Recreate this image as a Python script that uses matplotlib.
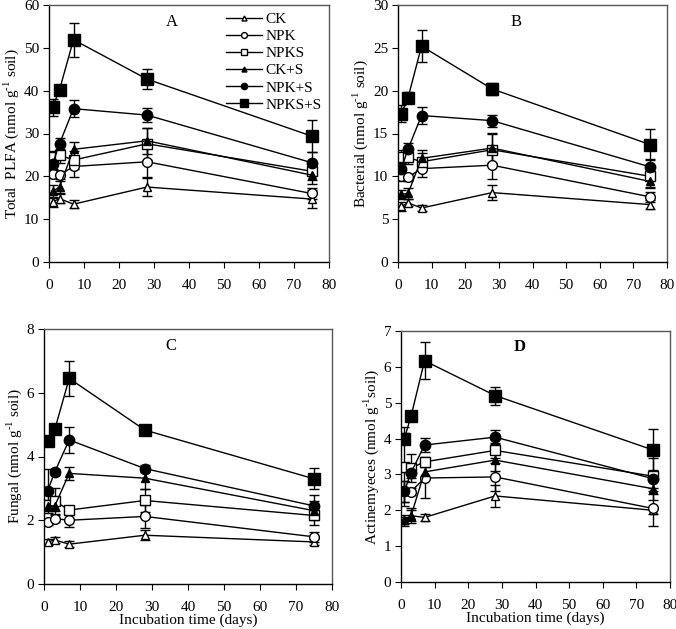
import matplotlib
matplotlib.use("Agg")
import matplotlib.pyplot as plt
from matplotlib.lines import Line2D

plt.rcParams['font.family'] = ['Liberation Serif', 'DejaVu Serif']
plt.rcParams['mathtext.fontset'] = 'custom'
plt.rcParams['mathtext.rm'] = 'Liberation Serif'

days = [1, 3, 7, 28, 75]
series = ["CK", "NPK", "NPKS", "CK+S", "NPK+S", "NPKS+S"]

# Panel A: Total PLFA
A_vals = {
    "CK":     [14.0, 14.8, 13.5, 17.5, 14.7],
    "NPK":    [20.5, 20.3, 22.3, 23.4, 16.0],
    "NPKS":   [24.5, 25.0, 23.8, 27.6, 21.2],
    "CK+S":   [16.5, 17.5, 26.3, 28.3, 20.3],
    "NPK+S":  [22.8, 27.6, 35.8, 34.3, 23.2],
    "NPKS+S": [36.1, 40.2, 51.9, 42.7, 29.4],
}
A_err = {
    "CK":     [1.2, 1.0, 1.0, 2.0, 2.0],
    "NPK":    [1.0, 1.0, 2.5, 3.5, 1.3],
    "NPKS":   [1.5, 2.0, 2.2, 3.8, 2.0],
    "CK+S":   [1.5, 1.5, 1.8, 3.0, 2.0],
    "NPK+S":  [1.0, 1.3, 2.0, 1.6, 2.5],
    "NPKS+S": [2.0, 0.8, 4.0, 2.3, 3.8],
}
# Panel B: Bacterial
B_vals = {
    "CK":     [6.5, 6.9, 6.3, 8.1, 6.7],
    "NPK":    [10.0, 9.9, 10.9, 11.3, 7.6],
    "NPKS":   [12.3, 12.2, 11.7, 13.1, 10.0],
    "CK+S":   [7.9, 8.0, 12.1, 13.3, 9.4],
    "NPK+S":  [10.9, 13.2, 17.1, 16.5, 11.1],
    "NPKS+S": [17.3, 19.2, 25.2, 20.2, 13.7],
}
B_err = {
    "CK":     [0.5, 0.4, 0.4, 0.9, 0.5],
    "NPK":    [0.5, 0.4, 1.0, 1.6, 0.6],
    "NPKS":   [0.8, 0.8, 1.0, 1.8, 1.2],
    "CK+S":   [0.5, 0.6, 1.0, 1.8, 0.8],
    "NPK+S":  [0.6, 0.7, 1.0, 0.7, 0.9],
    "NPKS+S": [1.0, 0.6, 1.9, 0.7, 1.8],
}
# Panel C: Fungal
C_vals = {
    "CK":     [1.32, 1.38, 1.25, 1.53, 1.32],
    "NPK":    [1.95, 2.05, 2.00, 2.12, 1.48],
    "NPKS":   [2.48, 2.60, 2.32, 2.62, 2.15],
    "CK+S":   [2.45, 2.45, 3.47, 3.32, 2.30],
    "NPK+S":  [2.92, 3.52, 4.52, 3.62, 2.45],
    "NPKS+S": [4.50, 4.85, 6.45, 4.83, 3.30],
}
C_err = {
    "CK":     [0.10, 0.10, 0.10, 0.15, 0.10],
    "NPK":    [0.10, 0.10, 0.20, 0.35, 0.15],
    "NPKS":   [0.15, 0.40, 0.10, 0.35, 0.30],
    "CK+S":   [0.15, 0.15, 0.20, 0.35, 0.30],
    "NPK+S":  [0.70, 0.10, 0.40, 0.10, 0.35],
    "NPKS+S": [0.10, 0.10, 0.55, 0.15, 0.33],
}
# Panel D: Actinomyces
D_vals = {
    "CK":     [1.72, 1.85, 1.80, 2.40, 2.00],
    "NPK":    [2.53, 2.52, 2.90, 2.93, 2.05],
    "NPKS":   [3.22, 3.18, 3.35, 3.67, 2.95],
    "CK+S":   [1.72, 1.85, 3.07, 3.40, 2.60],
    "NPK+S":  [2.53, 3.05, 3.82, 4.04, 2.88],
    "NPKS+S": [4.00, 4.63, 6.17, 5.20, 3.68],
}
D_err = {
    "CK":     [0.10, 0.15, 0.10, 0.30, 0.10],
    "NPK":    [0.30, 0.10, 0.55, 0.40, 0.50],
    "NPKS":   [1.10, 0.40, 0.15, 0.20, 0.50],
    "CK+S":   [0.15, 0.20, 0.20, 0.30, 0.30],
    "NPK+S":  [0.30, 0.15, 0.20, 0.20, 0.25],
    "NPKS+S": [0.15, 0.15, 0.52, 0.25, 0.60],
}

styles = {
    "CK":     dict(marker="^", mfc="white", ms=6),
    "NPK":    dict(marker="o", mfc="white", ms=7),
    "NPKS":   dict(marker="s", mfc="white", ms=7),
    "CK+S":   dict(marker="^", mfc="black", ms=6),
    "NPK+S":  dict(marker="o", mfc="black", ms=7.5),
    "NPKS+S": dict(marker="s", mfc="black", ms=8.5),
}

fig = plt.figure(figsize=(6.76, 6.29), dpi=100)
W, H = 676, 629

def box(l, r, t, b):
    return [l / W, 1 - b / H, (r - l) / W, (b - t) / H]

sup = r"$^{\text{-1}}$"
panels = [
    (box(49, 329, 5, 262), A_vals, A_err, 60, 10, "Total  PLFA (nmol g" + sup + " soil)", "A", False, False),
    (box(398, 667, 5, 262), B_vals, B_err, 30, 5, "Bacterial (nmol g" + sup + " soil)", "B", False, False),
    (box(44, 332, 329, 584), C_vals, C_err, 8, 2, "Fungal (nmol g" + sup + " soil)", "C", True, False),
    (box(401, 670, 331, 582), D_vals, D_err, 7, 1, "Actinemyeces (nmol g" + sup + "soil)", "D", True, True),
]

for idx, (rect, vals, errs, ymax, ystep, ylabel, tag, xl, bold) in enumerate(panels):
    ax = fig.add_axes(rect)
    for s in series:
        st = styles[s]
        ax.errorbar(days, vals[s], yerr=errs[s], color="black", lw=1.0,
                    marker=st["marker"], mfc=st["mfc"], mec="black",
                    ms=st["ms"], mew=1.0, capsize=3.5, elinewidth=1.0,
                    capthick=1.0, label=s)
    ax.set_xlim(0, 80)
    ax.set_ylim(0, ymax)
    ax.set_xticks(range(0, 81, 10))
    ax.set_yticks([i * ystep for i in range(int(round(ymax / ystep)) + 1)])
    ax.tick_params(direction="out", length=4, width=0.8, labelsize=11, pad=3)
    ax.tick_params(axis="x", pad=8)
    for sp in ["left", "bottom"]:
        ax.spines[sp].set_color("black")
        ax.spines[sp].set_linewidth(1.0)
    for sp in ["top", "right"]:
        ax.spines[sp].set_color("#555555")
        ax.spines[sp].set_linewidth(1.0)
    ax.set_ylabel(ylabel, fontsize=11, labelpad=2)
    if xl:
        ax.set_xlabel("Incubation time (days)", fontsize=11, labelpad=0)
    ax.text(0.44, 0.935, tag, transform=ax.transAxes, ha="center", va="center",
            fontsize=12, fontweight="bold" if bold else "normal")
    if idx == 0:
        lh = [Line2D([], [], color="black", lw=1.0, marker=styles[s]["marker"],
                     mfc=styles[s]["mfc"], mec="black",
                     ms=styles[s]["ms"] * 0.6) for s in series]
        ax.legend(lh, series, loc="upper right", frameon=False, fontsize=11,
                  handlelength=2.4, labelspacing=0.22, handletextpad=0.2,
                  borderaxespad=0.1, bbox_to_anchor=(1.0, 1.0))

fig.savefig("out.png", dpi=100)
